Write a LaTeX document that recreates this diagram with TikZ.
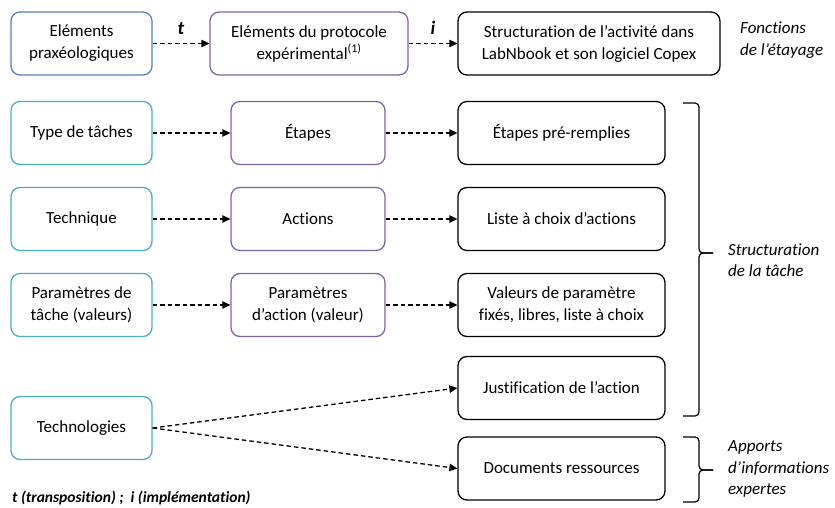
\documentclass[tikz,border=0pt]{standalone}
\usepackage{fontspec}
\setmainfont[Ligatures=NoCommon]{Carlito}
\usetikzlibrary{arrows.meta}
\definecolor{bleu}{RGB}{79,129,189}
\definecolor{turq}{RGB}{75,172,198}
\definecolor{viol}{RGB}{128,100,162}
\tikzset{%
    boite/.style={rectangle, rounded corners=9pt, line width=1.3pt, align=center, inner sep=2pt, fill=white, minimum height=63pt, font=\fontsize{17}{22}\selectfont},
    bbl/.style={boite, draw=bleu, minimum width=141pt},
    btq/.style={boite, draw=turq, minimum width=141pt},
    bvi/.style={boite, draw=viol, minimum width=154pt},
    bno/.style={boite, draw=black, minimum width=207pt},
    fl/.style={line width=1.3pt, dash pattern=on 4.5pt off 3pt, -{Triangle[length=8pt, width=7.5pt]}},
    acc/.style={line width=1.2pt, rounded corners=4pt},
    lab/.style={align=left, anchor=west, inner sep=0pt, font=\fontsize{17}{21.5}\selectfont\itshape},
    lt/.style={inner sep=0pt, font=\fontsize{19}{22}\selectfont\bfseries\itshape},
}
\begin{document}
\begin{tikzpicture}[x=1pt, y=-1pt]
    \useasboundingbox (0,0) rectangle (835,508);
    % ligne du haut
    \node [bbl] (prax) at (81.5,43.5) {Eléments\\praxéologiques};
    \node [bvi, minimum width=198pt] (prot) at (309,43.5) {Eléments du protocole\\expérimental\textsuperscript{(1)}};
    \node [bno, minimum width=262pt] (lnb) at (589,43.5) {Structuration de l’activité dans\\LabNbook et son logiciel Copex};
    \draw [fl] (prax) -- (prot) node[midway, above=8pt, lt]{t};
    \draw [fl] (prot) -- (lnb) node[midway, above=8pt, lt]{i};
    \node [lab] (fonc) at (740,40) {Fonctions\\de l’étayage};
    % colonne de gauche
    \node [btq] (typ) at (81.5,133) {Type de tâches};
    \node [btq] (tec) at (81.5,219) {Technique};
    \node [btq] (par) at (81.5,305) {Paramètres de\\tâche (valeurs)};
    \node [btq] (tgie) at (81.5,428) {Technologies};
    % colonne du milieu
    \node [bvi] (eta) at (308,133) {Étapes};
    \node [bvi] (act) at (308,219) {Actions};
    \node [bvi] (pac) at (308,305) {Paramètres\\d’action (valeur)};
    % colonne de droite
    \node [bno] (etr) at (561.5,133) {Étapes pré-remplies};
    \node [bno] (lst) at (561.5,219) {Liste à choix d’actions};
    \node [bno] (val) at (561.5,305) {Valeurs de paramètre\\fixés, libres, liste à choix};
    \node [bno] (jus) at (561.5,388) {Justification de l’action};
    \node [bno] (doc) at (561.5,468.5) {Documents ressources};
    \draw [fl] (typ) -- (eta);
    \draw [fl] (eta) -- (etr);
    \draw [fl] (tec) -- (act);
    \draw [fl] (act) -- (lst);
    \draw [fl] (par) -- (pac);
    \draw [fl] (pac) -- (val);
    \draw [fl] (tgie.east) -- (jus.west);
    \draw [fl] (tgie.east) -- (doc.west);
    % accolades
    \draw [acc] (683,103) -- (699,103) -- (699,253) -- (713,253);
    \draw [acc] (713,253) -- (699,253) -- (699,416) -- (683,416);
    \draw [acc] (683,437) -- (699,437) -- (699,470) -- (713,470);
    \draw [acc] (713,470) -- (699,470) -- (699,502) -- (683,502);
    \node [lab] (stru) at (728,260) {Structuration\\de la tâche};
    \node [lab] (appo) at (728,469) {Apports\\d’informations\\expertes};
    \node [anchor=west, inner sep=0pt, font=\fontsize{15.5}{18}\selectfont\bfseries\itshape] (leg) at (12,498) {t (transposition) ;\ \ i (implémentation)};
\end{tikzpicture}
\end{document}
